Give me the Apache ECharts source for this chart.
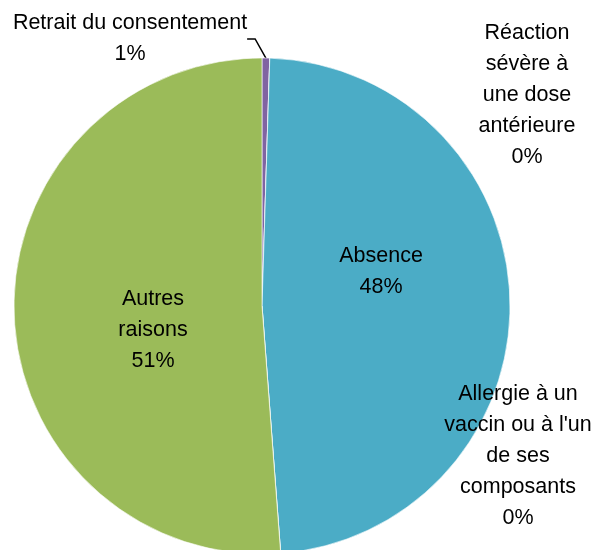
<!DOCTYPE html>
<html lang="fr">
<head>
  <meta charset="UTF-8">
  <title>Raisons</title>
  <script src="https://cdn.jsdelivr.net/npm/echarts@6/dist/echarts.min.js"></script>
  <style>
    html, body { margin: 0; padding: 0; background: #fff; }
    #chart { width: 595px; height: 550px; }
  </style>
</head>
<body>
  <div id="chart"></div>
  <script>
    // catégories et valeurs (%), dans l'ordre horaire depuis midi
    const categories = [
      'Retrait du consentement',
      'Réaction\nsévère à\nune dose\nantérieure',
      'Absence',
      'Allergie à un\nvaccin ou à l\'un\nde ses\ncomposants',
      'Autres\nraisons'
    ];
    const values = [0.5, 0, 48.3, 0, 51.2];
    const colors = ['#8064A2', '#F79646', '#4BACC6', '#C0504D', '#9BBB59'];

    // emplacement des étiquettes
    const labelSpots = [
      { x: 130, y: 39 },
      { x: 527, y: 95 },
      { x: 381, y: 272 },
      { x: 518, y: 456 },
      { x: 153, y: 330 }
    ];

    const chart = echarts.init(document.getElementById('chart'));
    chart.setOption({
      animation: false,
      series: [{
        type: 'pie',
        center: [262, 306],
        radius: 248,
        startAngle: 90,
        clockwise: true,
        avoidLabelOverlap: false,
        itemStyle: { borderColor: '#fff', borderWidth: 0.6 },
        label: {
          show: true,
          position: 'outside',
          fontFamily: '"Liberation Sans Narrow", "Liberation Sans", Arial, sans-serif',
          fontSize: 21.5,
          lineHeight: 31,
          color: '#000',
          align: 'center',
          formatter: p => p.name + '\n' + Math.round(p.percent) + '%'
        },
        labelLine: { show: false },
        labelLayout: p => ({
          x: labelSpots[p.dataIndex].x,
          y: labelSpots[p.dataIndex].y,
          align: 'center',
          verticalAlign: 'middle'
        }),
        data: categories.map((c, i) => ({
          name: c,
          value: values[i],
          itemStyle: { color: colors[i] },
          labelLine: i === 0
            ? { show: true, length: 12, length2: 8, lineStyle: { color: '#000', width: 1.5 } }
            : { show: false }
        }))
      }]
    });
  </script>
</body>
</html>
